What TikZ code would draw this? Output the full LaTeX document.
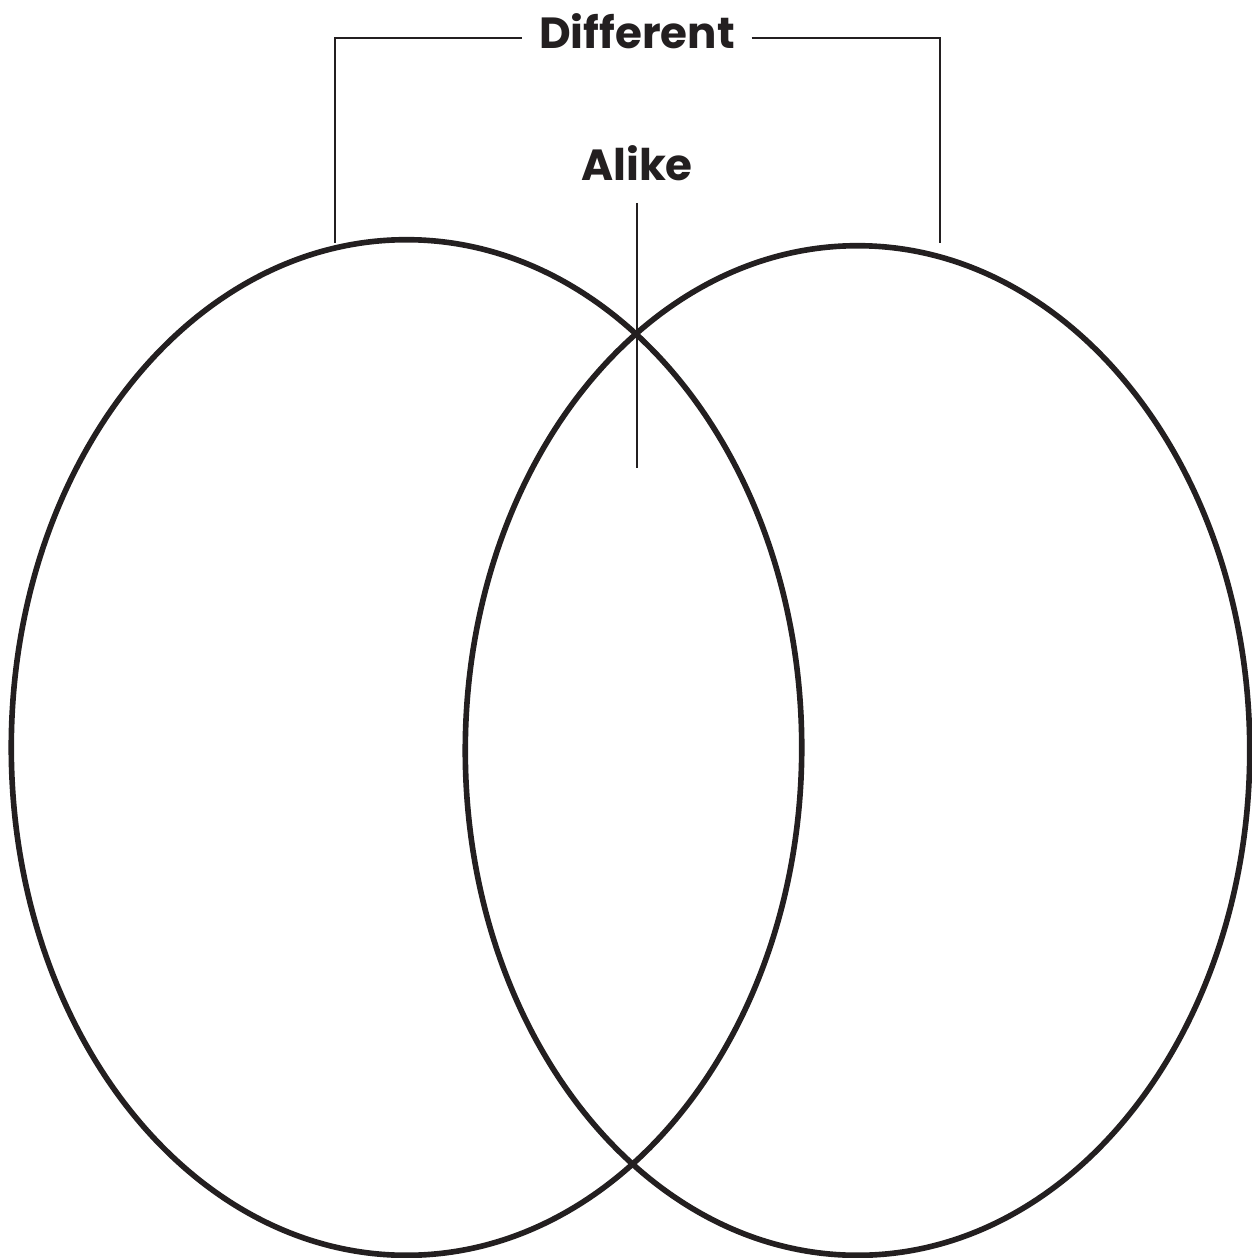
\documentclass[tikz,border=0pt]{standalone}
\usepackage{fontspec}
\setmainfont{Poppins}
\usetikzlibrary{shapes.geometric, positioning}

\definecolor{ink}{HTML}{231F20}

\begin{document}
\begin{tikzpicture}[
        x=0.01cm, y=-0.01cm,
        ring/.style={ellipse, draw=ink, line width=1.6pt, inner sep=0pt},
        label/.style={text=ink, font=\bfseries\fontsize{12.4}{14}\selectfont, inner sep=0pt},
        bracket/.style={draw=ink, line width=0.8pt}
    ]
        \useasboundingbox (0,0) rectangle (1252,1258);

        % Circles
        \node[ring, minimum width=7.9cm, minimum height=10.15cm] (left) at (406.5,747.5) {};
        \node[ring, minimum width=7.84cm, minimum height=10.09cm] (right) at (857.5,750.5) {};

        % Labels
        \node[label, inner xsep=4.6pt] (diff) at (637,31) {Different};
        \node[label] (alike) at (637,163) {Alike};

        % Bracket ends
        \coordinate (lfoot) at (335,243);
        \coordinate (rfoot) at (940,243);
        \coordinate (atop) at (637,203);
        \coordinate (abot) at (637,468);

        % Connectors
        \draw[bracket] (lfoot) |- ([yshift=-0.07cm]diff.west);
        \draw[bracket] ([yshift=-0.07cm]diff.east) -| (rfoot);
        \draw[bracket] (atop) -- (abot);

    \end{tikzpicture}
\end{document}
